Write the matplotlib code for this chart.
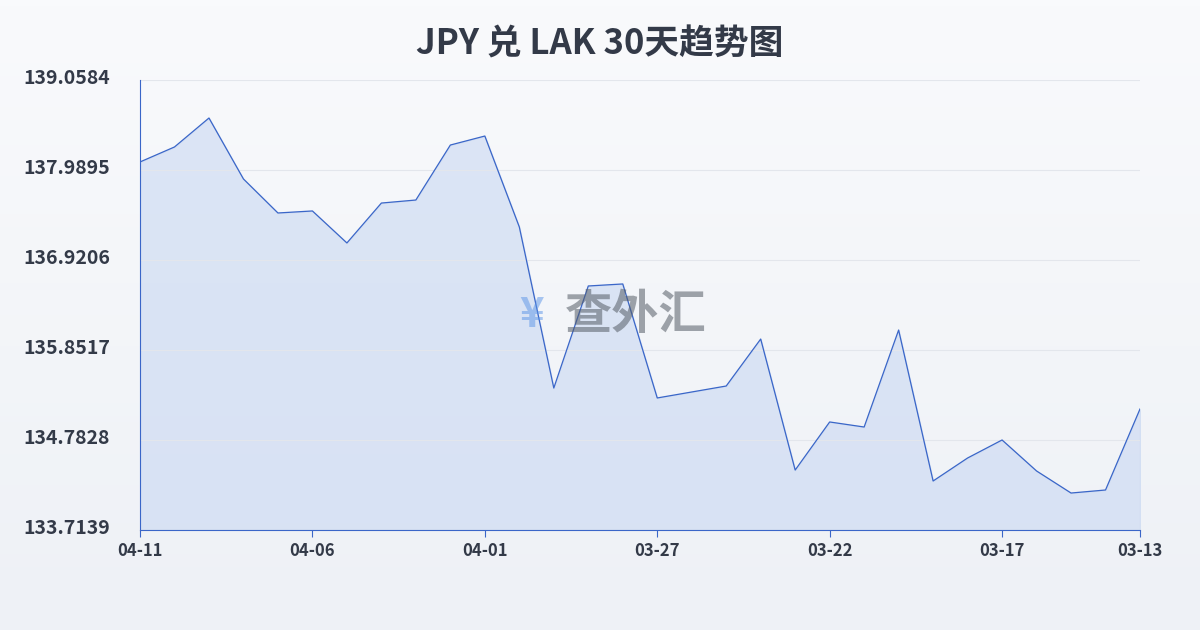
import numpy as np
import matplotlib.pyplot as plt
from matplotlib.transforms import ScaledTranslation

plt.rcParams['font.family'] = ['Noto Sans CJK SC', 'DejaVu Sans']

dates = ['04-11', '04-10', '04-09', '04-08', '04-07', '04-06', '04-05', '04-04', '04-03', '04-02',
         '04-01', '03-31', '03-30', '03-29', '03-28', '03-27', '03-26', '03-25', '03-24', '03-23',
         '03-22', '03-21', '03-20', '03-19', '03-18', '03-17', '03-16', '03-15', '03-14', '03-13']
rates = [138.085, 138.263, 138.607, 137.883, 137.479, 137.503, 137.123, 137.597, 137.633, 138.286,
         138.393, 137.313, 135.400, 136.612, 136.636, 135.282, 135.353, 135.424, 135.982, 134.426,
         134.997, 134.937, 136.089, 134.296, 134.569, 134.783, 134.415, 134.153, 134.189, 135.151]
yticks = [133.7139, 134.7828, 135.8517, 136.9206, 137.9895, 139.0584]

fig = plt.figure(figsize=(12, 6.3), dpi=100)
bg = fig.add_axes([0, 0, 1, 1])
bg.imshow(np.linspace(0, 1, 100).reshape(-1, 1), cmap=plt.matplotlib.colors.LinearSegmentedColormap.from_list('g', ['#f9fafc', '#eef1f6']),
          aspect='auto', extent=[0, 1, 0, 1])
bg.axis('off')

ax = fig.add_axes([140/1200, 100/630, 1000/1200, 450/630])
ax.patch.set_alpha(0)
x = np.arange(len(rates))
ax.fill_between(x, rates, yticks[0], color='#c9d8f2', alpha=0.6)
ax.plot(x, rates, color='#3a66c8', lw=0.9)
ax.set_xlim(0, len(rates) - 1)
ax.set_ylim(yticks[0], yticks[-1])
ax.set_yticks(yticks)
ax.set_yticklabels([f'{v:.4f}' for v in yticks], fontsize=14, color='#333a48', fontweight='bold')
ax.set_xticks(x[::5].tolist() + [29])
ax.set_xticklabels([dates[i] for i in range(0, 30, 5)] + [dates[29]], fontsize=12, color='#333a48', fontweight='bold')
ax.grid(axis='y', color='#e3e6ec', lw=0.8)
for s in ['top', 'right']:
    ax.spines[s].set_visible(False)
ax.spines['left'].set_color('#3a66c8')
ax.spines['bottom'].set_color('#3a66c8')
ax.tick_params(axis='y', length=0)
for lab in ax.get_yticklabels():
    lab.set_horizontalalignment('left')
    lab.set_verticalalignment('center')
    lab.set_transform(lab.get_transform() + ScaledTranslation(-1.12, 0.02, fig.dpi_scale_trans))
ax.tick_params(axis='x', color='#3a66c8', length=5)

fig.text(0.5, 0.93, 'JPY 兑 LAK 30天趋势图', ha='center', va='center', fontsize=25,
         fontweight='bold', color='#333a48')
fig.text(0.443, 0.5, '¥', ha='center', va='center', fontsize=30, color='#5b95e8', alpha=0.5, fontweight='bold')
fig.text(0.53, 0.5, '查外汇', ha='center', va='center', fontsize=34, color='#555c66', alpha=0.55, fontweight='bold')

fig.savefig('out.png')
